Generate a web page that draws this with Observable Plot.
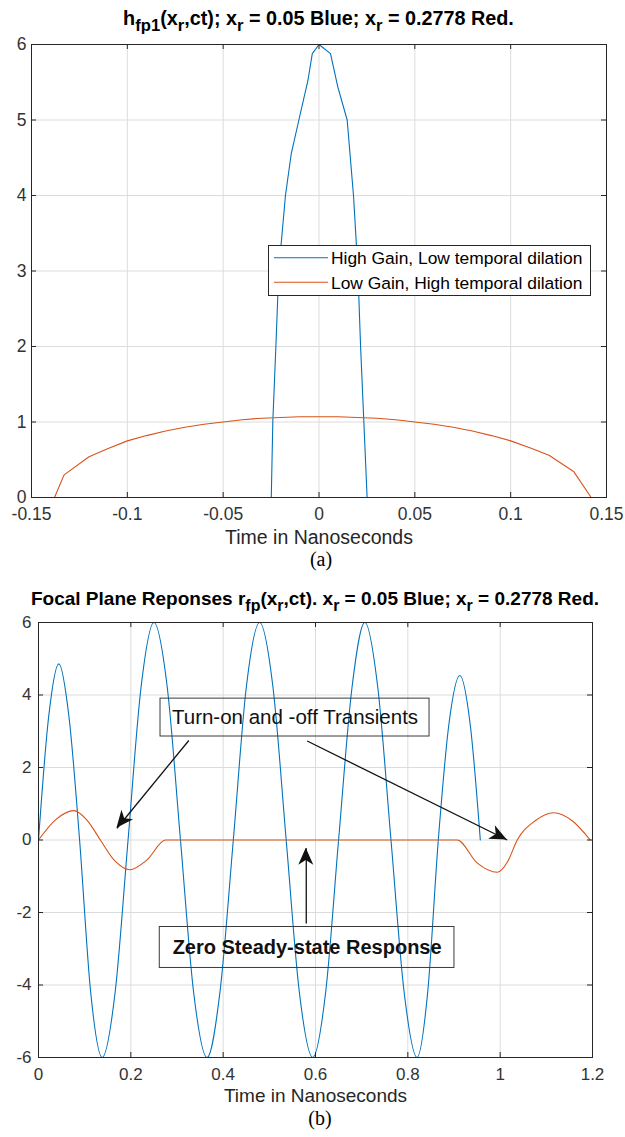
<!DOCTYPE html>
<html>
<head>
<meta charset="utf-8">
<script src="https://cdn.jsdelivr.net/npm/d3@7"></script>
<script src="https://cdn.jsdelivr.net/npm/@observablehq/plot@0.6"></script>
<style>
  html, body { margin: 0; padding: 0; background: #fff; }
  #root { position: relative; width: 625px; height: 1137px; background: #fff; overflow: hidden; }
  #root svg { position: absolute; left: 0; top: 0; }
</style>
</head>
<body>
<div id="root"></div>
<script>
// ---------------- Panel (a) data ----------------
const xTicksA = [-0.15, -0.1, -0.05, 0, 0.05, 0.1, 0.15];
const yTicksA = [0, 1, 2, 3, 4, 5, 6];
const blueA_t = [-0.0249, -0.0241, -0.0225, -0.021, -0.0175, -0.0145, -0.0105, -0.0058, -0.0035, 0, 0.006, 0.0098, 0.0147, 0.018, 0.0203, 0.0217, 0.0234, 0.0251, 0.0283];
const blueA_v = [0, 1, 2, 3, 4, 4.55, 5, 5.52, 5.88, 6, 5.88, 5.44, 5, 4, 3, 2, 1, 0, 0];
const redA_t = [-0.138, -0.133, -0.12, -0.11, -0.1, -0.09, -0.08, -0.07, -0.06, -0.05, -0.04, -0.03, -0.02, -0.01, 0, 0.01, 0.02, 0.03, 0.04, 0.05, 0.06, 0.07, 0.08, 0.09, 0.1, 0.11, 0.12, 0.133, 0.142, 0.148];
const redA_v = [0, 0.30, 0.54, 0.65, 0.75, 0.82, 0.88, 0.93, 0.97, 1.0, 1.03, 1.05, 1.06, 1.07, 1.07, 1.07, 1.06, 1.05, 1.03, 1.0, 0.97, 0.93, 0.88, 0.82, 0.75, 0.66, 0.56, 0.34, 0, 0];
const legendLabels = ["High Gain, Low temporal dilation", "Low Gain, High temporal dilation"];
const titleA = [["h", 0], ["fp1", 1], ["(x", 0], ["r", 1], [",ct); x", 0], ["r", 1], [" = 0.05 Blue; x", 0], ["r", 1], [" = 0.2778 Red.", 0]];
const xLabel = "Time in Nanoseconds";
const captionA = "(a)";

// ---------------- Panel (b) data ----------------
const xTicksB = [0, 0.2, 0.4, 0.6, 0.8, 1, 1.2];
const yTicksB = [-6, -4, -2, 0, 2, 4, 6];
const blueB_t = [0, 0.022, 0.044, 0.066, 0.089, 0.113, 0.138, 0.166, 0.194, 0.222, 0.25, 0.279, 0.3075, 0.336, 0.365, 0.393, 0.422, 0.45, 0.479, 0.508, 0.5365, 0.565, 0.594, 0.622, 0.65, 0.679, 0.707, 0.735, 0.7635, 0.792, 0.82, 0.843, 0.866, 0.889, 0.9126, 0.935, 0.957];
const blueB_v = [0, 3.4, 4.86, 3.4, 0, -4.2, -6, -4.2, 0, 4.2, 6, 4.2, 0, -4.2, -6, -4.2, 0, 4.2, 6, 4.2, 0, -4.2, -6, -4.2, 0, 4.2, 6, 4.2, 0, -4.2, -6, -4.2, 0, 3.2, 4.54, 3.2, 0];
const redB_t = [0, 0.038, 0.0765, 0.105, 0.134, 0.165, 0.198, 0.235, 0.275, 0.45, 0.65, 0.907, 0.95, 0.994, 1.016, 1.037, 1.076, 1.116, 1.156, 1.195];
const redB_v = [0, 0.57, 0.81, 0.55, 0, -0.57, -0.82, -0.55, 0, 0, 0, 0, -0.63, -0.89, -0.6, 0, 0.53, 0.75, 0.53, 0];
const boxLabels = ["Turn-on and -off Transients", "Zero Steady-state Response"];
const boxBold = [false, true];
const boxX1 = [0.2643, 0.2627], boxX2 = [0.847, 0.901];
const boxY1 = [3.90, -2.40], boxY2 = [2.855, -3.53];
const arrowX1 = [0.3256, 0.582, 0.58], arrowY1 = [2.745, 2.73, -2.30];
const arrowX2 = [0.170, 1.0153, 0.58], arrowY2 = [0.325, 0.0, -0.23];
const titleB = [["Focal Plane Reponses r", 0], ["fp", 1], ["(x", 0], ["r", 1], [",ct). x", 0], ["r", 1], [" = 0.05 Blue; x", 0], ["r", 1], [" = 0.2778 Red.", 0]];
const captionB = "(b)";

// ---------------- styling ----------------
const FONT = "'Liberation Sans', Arial, Helvetica, sans-serif";
const SERIF = "'Liberation Serif', 'Times New Roman', serif";
const INK = "#262626";
const BLUE = "#0072BD";
const RED = "#D95319";
const GRID = "#dcdcdc";

const toRows = (t, v) => t.map((d, i) => ({t: d, v: v[i]}));

function frameTicks(xt, yt, w, h) {
  return [
    Plot.tickX(xt, {x: d => d, insetTop: h - 5, stroke: INK}),
    Plot.tickX(xt, {x: d => d, insetBottom: h - 5, stroke: INK}),
    Plot.tickY(yt, {y: d => d, insetRight: w - 5, stroke: INK}),
    Plot.tickY(yt, {y: d => d, insetLeft: w - 5, stroke: INK})
  ];
}

function addTitle(svg, parts, cx, y, size) {
  const sub = size * 0.84, shift = size * 0.32;
  const t = svg.append("text")
    .attr("x", cx).attr("y", y).attr("text-anchor", "middle")
    .attr("font-family", FONT).attr("font-size", size).attr("font-weight", "bold").attr("fill", "#000");
  let shifted = false;
  for (const [s, isSub] of parts) {
    const ts = t.append("tspan").text(s);
    if (isSub) {
      ts.attr("font-size", sub);
      if (!shifted) { ts.attr("dy", shift); shifted = true; }
    } else if (shifted) {
      ts.attr("dy", -shift); shifted = false;
    }
  }
}

function addCaption(svg, text, cx, y) {
  svg.append("text").attr("x", cx).attr("y", y).attr("text-anchor", "middle")
    .attr("font-family", SERIF).attr("font-size", 20).attr("fill", "#000").text(text);
}

const root = document.getElementById("root");

// ---------------- Panel (a) ----------------
const hA = 453, wA = 575;
const chartA = Plot.plot({
  width: 625, height: 570,
  marginTop: 44, marginBottom: 73, marginLeft: 31, marginRight: 19,
  style: {fontFamily: FONT, background: "transparent", overflow: "visible"},
  x: {domain: [-0.15, 0.15]},
  y: {domain: [0, 6]},
  marks: [
    Plot.gridX(xTicksA, {stroke: GRID, strokeOpacity: 1}),
    Plot.gridY(yTicksA, {stroke: GRID, strokeOpacity: 1}),
    Plot.line(toRows(blueA_t, blueA_v), {x: "t", y: "v", stroke: BLUE, strokeWidth: 1.1}),
    Plot.line(toRows(redA_t, redA_v), {x: "t", y: "v", stroke: RED, strokeWidth: 1.1}),
    Plot.frame({stroke: INK}),
    ...frameTicks(xTicksA, yTicksA, wA, hA),
    Plot.axisX(xTicksA, {tickSize: 0, tickPadding: 10, fontSize: 17.5, tickFormat: d => String(d), label: null, color: "#333"}),
    Plot.axisY(yTicksA, {tickSize: 0, tickPadding: 5, fontSize: 17.5, tickFormat: d => String(d), label: null, color: "#333"}),
    Plot.text([xLabel], {text: d => d, frameAnchor: "bottom", lineAnchor: "bottom", dy: 46, fontSize: 19.5, fill: INK})
  ]
});
root.appendChild(chartA);
{
  const svg = d3.select(chartA);
  addTitle(svg, titleA, 318.5, 25, 19.8);
  addCaption(svg, captionA, 321, 566);
  // legend
  const lg = svg.append("g").attr("text-anchor", "start");
  lg.append("rect").attr("x", 268.5).attr("y", 245.5).attr("width", 322).attr("height", 50)
    .attr("fill", "#fff").attr("stroke", INK);
  const colors = [BLUE, RED];
  const rowsY = [257.7, 282.3];
  legendLabels.forEach((lab, i) => {
    lg.append("line").attr("x1", 274).attr("x2", 328).attr("y1", rowsY[i]).attr("y2", rowsY[i])
      .attr("stroke", colors[i]).attr("stroke-width", 1.1);
    lg.append("text").attr("x", 331).attr("y", rowsY[i] + 6.5).attr("text-anchor", "start")
      .attr("font-family", FONT).attr("font-size", 17.4).attr("fill", "#000").text(lab);
  });
}

// ---------------- Panel (b) ----------------
const hB = 435, wB = 554;
const boxes = boxLabels.map((l, i) => ({label: l, bold: boxBold[i], x1: boxX1[i], x2: boxX2[i], y1: boxY1[i], y2: boxY2[i], tx: (boxX1[i] + boxX2[i]) / 2, ty: (boxY1[i] + boxY2[i]) / 2}));
const arrows = arrowX1.map((d, i) => ({x1: d, y1: arrowY1[i], x2: arrowX2[i], y2: arrowY2[i]}));
const chartB = Plot.plot({
  width: 625, height: 1137,
  marginTop: 622, marginBottom: 80, marginLeft: 38, marginRight: 33,
  style: {fontFamily: FONT, background: "transparent", overflow: "visible"},
  x: {domain: [0, 1.2]},
  y: {domain: [-6, 6]},
  marks: [
    Plot.gridX(xTicksB, {stroke: GRID, strokeOpacity: 1}),
    Plot.gridY(yTicksB, {stroke: GRID, strokeOpacity: 1}),
    Plot.line(toRows(blueB_t, blueB_v), {x: "t", y: "v", stroke: BLUE, strokeWidth: 1.1, curve: "monotone-x"}),
    Plot.line(toRows(redB_t, redB_v), {x: "t", y: "v", stroke: RED, strokeWidth: 1.1, curve: "monotone-x"}),
    Plot.frame({stroke: INK}),
    ...frameTicks(xTicksB, yTicksB, wB, hB),
    Plot.axisX(xTicksB, {tickSize: 0, tickPadding: 10, fontSize: 17, tickFormat: d => String(d), label: null, color: "#333"}),
    Plot.axisY(yTicksB, {tickSize: 0, tickPadding: 7, fontSize: 17, tickFormat: d => String(d), label: null, color: "#333"}),
    Plot.text([xLabel], {text: d => d, frameAnchor: "bottom", lineAnchor: "bottom", dy: 44, fontSize: 19, fill: INK}),
    Plot.rect(boxes, {x1: "x1", x2: "x2", y1: "y1", y2: "y2", fill: "none", stroke: "#3a3a3a", strokeWidth: 1}),
    Plot.text(boxes.filter(d => !d.bold), {x: "tx", y: "ty", text: "label", fontSize: 20.5, fill: "#111"}),
    Plot.text(boxes.filter(d => d.bold), {x: "tx", y: "ty", text: "label", fontSize: 20, fontWeight: "bold", fill: "#111"}),
    Plot.link(arrows, {x1: "x1", y1: "y1", x2: "x2", y2: "y2", stroke: "#111", strokeWidth: 1.3})
  ]
});
root.appendChild(chartB);
{
  const svg = d3.select(chartB);
  addTitle(svg, titleB, 315, 605, 19);
  addCaption(svg, captionB, 320, 1125);
  // filled arrow heads positioned through the plot's own scales
  const sx = chartB.scale("x"), sy = chartB.scale("y");
  for (const a of arrows) {
    const px1 = sx.apply(a.x1), py1 = sy.apply(a.y1), px2 = sx.apply(a.x2), py2 = sy.apply(a.y2);
    const len = Math.hypot(px2 - px1, py2 - py1);
    const ux = (px2 - px1) / len, uy = (py2 - py1) / len;
    const nx = -uy, ny = ux;
    const L = 17, H = 7.5;
    const bx = px2 - L * ux, by = py2 - L * uy;
    const mx = px2 - 0.72 * L * ux, my = py2 - 0.72 * L * uy;
    svg.append("path")
      .attr("d", `M${px2},${py2}L${bx + H * nx},${by + H * ny}L${mx},${my}L${bx - H * nx},${by - H * ny}Z`)
      .attr("fill", "#111");
  }
}
</script>
</body>
</html>
